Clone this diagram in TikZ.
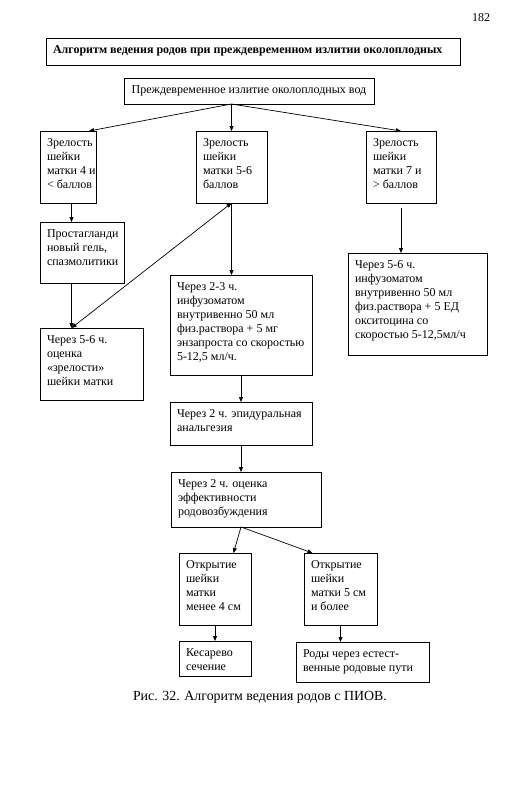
\documentclass[tikz,border=0pt]{standalone}
\usepackage{fontspec}
\setmainfont{Liberation Serif}
\usetikzlibrary{arrows.meta}
\newcommand{\bt}[3]{\hspace*{7pt}\parbox[t][\dimexpr#2pt-12pt\relax][t]{\dimexpr#1pt-8pt\relax}{\raggedright\strut #3}}
\tikzset{
  box/.style={draw, line width=0.9pt, anchor=north west, inner xsep=0pt, inner ysep=6pt, outer sep=0pt},
  arr/.style={-{Triangle[length=5pt,width=4pt]}, line width=0.7pt},
  darr/.style={{Triangle[length=5pt,width=4pt]}-{Triangle[length=5pt,width=4pt]}, line width=0.7pt},
}
\begin{document}
\begin{tikzpicture}[x=1pt, y=-1pt, font=\fontsize{12}{14}\selectfont]
\useasboundingbox (0,0) rectangle (517,792);
\fill[white] (0,0) rectangle (517,792);

\node[inner sep=0, font=\fontsize{12}{14}\selectfont] (page) at (481,18) {182};

\node[box] (title) at (46,38) {\bt{415}{27}{\textbf{Алгоритм ведения родов при преждевременном излитии околоплодных}}};

\node[draw, line width=0.9pt, anchor=north west, minimum width=250pt, minimum height=26pt, inner sep=0, outer sep=0] (main) at (124,78) {Преждевременное излитие околоплодных вод};

\node[box] (l1) at (40,131) {\bt{57}{72}{Зрелость\\шейки\\матки 4 и\\< баллов}};
\node[box] (m1) at (196,131) {\bt{72}{72}{Зрелость\\шейки\\матки 5-6\\баллов}};
\node[box] (r1) at (366,131) {\bt{71}{72}{Зрелость\\шейки\\матки 7 и\\> баллов}};

\node[box] (l2) at (40,222) {\bt{85}{61}{Простагланди\\новый гель,\\спазмолитики}};
\node[box] (l3) at (40,328) {\bt{104}{72}{Через 5-6 ч.\\оценка\\«зрелости»\\шейки матки}};

\node[box] (m2) at (170,275) {\bt{143}{100}{Через 2-3 ч.\\инфузоматом\\внутривенно 50 мл\\физ.раствора + 5 мг\\энзапроста со скоростью\\5-12,5 мл/ч.}};
\node[box] (r2) at (348,253) {\bt{140}{102}{Через 5-6 ч.\\инфузоматом\\внутривенно 50 мл\\физ.раствора + 5 ЕД\\окситоцина со\\скоростью 5-12,5мл/ч}};

\node[box] (m3) at (170,402) {\bt{143}{43}{Через 2 ч. эпидуральная\\анальгезия}};
\node[box] (m4) at (171,472) {\bt{151}{55}{Через 2 ч. оценка\\эффективности\\родовозбуждения}};

\node[box] (b1) at (179,553) {\bt{73}{72}{Открытие\\шейки\\матки\\менее 4 см}};
\node[box] (b2) at (304,553) {\bt{74}{72}{Открытие\\шейки\\матки 5 см\\и более}};

\node[box] (c1) at (179,641) {\bt{73}{35}{Кесарево\\сечение}};
\node[box] (c2) at (296,642) {\bt{134}{40}{Роды через естест-\\венные родовые пути}};

\node[inner sep=0, font=\fontsize{13.9}{16}\selectfont] (cap) at (260,697) {Рис. 32. Алгоритм ведения родов с ПИОВ.};

% connectors
\coordinate (src) at (main.south -| m1.north);
\draw[arr] (src) -- ([xshift=-7pt]l1.north east);
\draw[arr] (src) -- (m1.north);
\draw[arr] (src) -- (r1.north);

\draw[arr] ([xshift=3.5pt]l1.south) -- ([xshift=3.5pt]l1.south |- l2.north);
\draw[arr] ([xshift=-10.5pt]l2.south) -- ([xshift=-10.5pt]l2.south |- l3.north);
\draw[darr] ([xshift=-20pt]l3.north) -- (m1.south);

\draw[arr] (m1.south) -- (m1.south |- m2.north);
\draw[arr] ([yshift=-5pt]r1.south) -- (r1.south |- r2.north);

\draw[arr] (m2.south) -- (m2.south |- m3.north);
\draw[arr] (m3.south) -- (m3.south |- m4.north);

\coordinate (src2) at (m3.south |- m4.south);
\draw[arr] (src2) -- ([xshift=18.5pt]b1.north);
\draw[arr] (src2) -- ([xshift=-28pt]b2.north);

\draw[arr] (b1.south) -- (c1.north);
\draw[arr] (b2.south) -- (b2.south |- c2.north);
\end{tikzpicture}
\end{document}
